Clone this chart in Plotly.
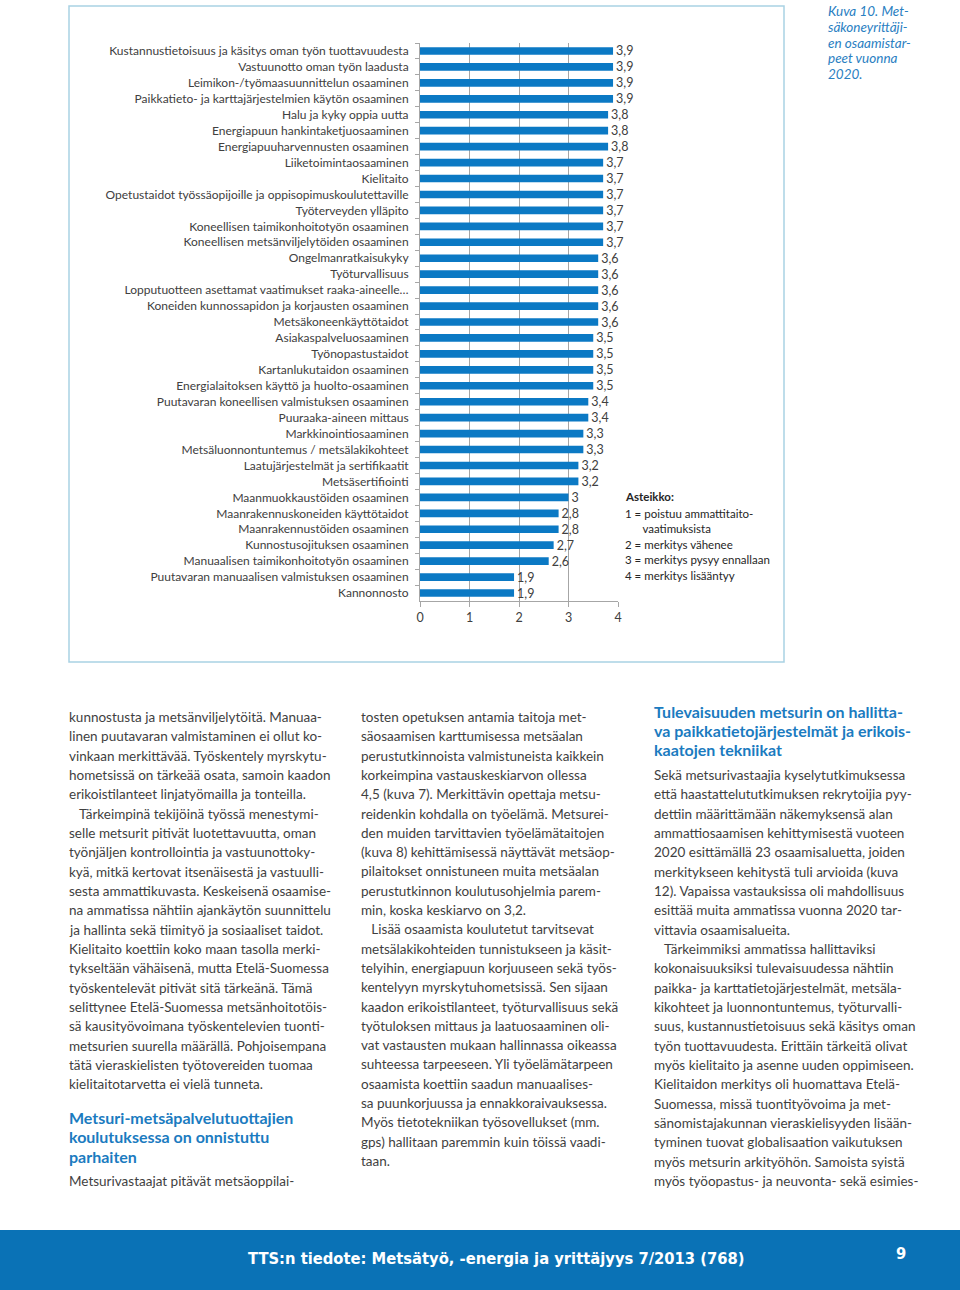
import plotly.graph_objects as go

W, H = 960, 1290

categories = [
    "Kustannustietoisuus ja käsitys oman työn tuottavuudesta",
    "Vastuunotto oman työn laadusta",
    "Leimikon-/työmaasuunnittelun osaaminen",
    "Paikkatieto- ja karttajärjestelmien käytön osaaminen",
    "Halu ja kyky oppia uutta",
    "Energiapuun hankintaketjuosaaminen",
    "Energiapuuharvennusten osaaminen",
    "Liiketoimintaosaaminen",
    "Kielitaito",
    "Opetustaidot työssäopijoille ja oppisopimuskoulutettaville",
    "Työterveyden ylläpito",
    "Koneellisen taimikonhoitotyön osaaminen",
    "Koneellisen metsänviljelytöiden osaaminen",
    "Ongelmanratkaisukyky",
    "Työturvallisuus",
    "Lopputuotteen asettamat vaatimukset raaka-aineelle…",
    "Koneiden kunnossapidon ja korjausten osaaminen",
    "Metsäkoneenkäyttötaidot",
    "Asiakaspalveluosaaminen",
    "Työnopastustaidot",
    "Kartanlukutaidon osaaminen",
    "Energialaitoksen käyttö ja huolto-osaaminen",
    "Puutavaran koneellisen valmistuksen osaaminen",
    "Puuraaka-aineen mittaus",
    "Markkinointiosaaminen",
    "Metsäluonnontuntemus / metsälakikohteet",
    "Laatujärjestelmät ja sertifikaatit",
    "Metsäsertifiointi",
    "Maanmuokkaustöiden osaaminen",
    "Maanrakennuskoneiden käyttötaidot",
    "Maanrakennustöiden osaaminen",
    "Kunnostusojituksen osaaminen",
    "Manuaalisen taimikonhoitotyön osaaminen",
    "Puutavaran manuaalisen valmistuksen osaaminen",
    "Kannonnosto",
]
values = [3.9, 3.9, 3.9, 3.9, 3.8, 3.8, 3.8, 3.7, 3.7, 3.7, 3.7, 3.7, 3.7,
          3.6, 3.6, 3.6, 3.6, 3.6, 3.5, 3.5, 3.5, 3.5, 3.4, 3.4, 3.3, 3.3,
          3.2, 3.2, 3.0, 2.8, 2.8, 2.7, 2.6, 1.9, 1.9]
x_ticks = [0, 1, 2, 3, 4]

value_labels = [f"{v:g}".replace(".", ",") for v in values]

scale_title = "Asteikko:"
scale_lines = ["1 = poistuu ammattitaito-", "      vaatimuksista", "2 = merkitys vähenee",
               "3 = merkitys pysyy ennallaan", "4 = merkitys lisääntyy"]

caption_lines = ["Kuva 10. Met-", "säkoneyrittäji-", "en osaamistar-", "peet vuonna", "2020."]

col1_lines = [
    "kunnostusta ja metsänviljelytöitä. Manuaa-",
    "linen puutavaran valmistaminen ei ollut ko-",
    "vinkaan merkittävää. Työskentely myrskytu-",
    "hometsissä on tärkeää osata, samoin kaadon",
    "erikoistilanteet linjatyömailla ja tonteilla.",
    "   Tärkeimpinä tekijöinä työssä menestymi-",
    "selle metsurit pitivät luotettavuutta, oman",
    "työnjäljen kontrollointia ja vastuunottoky-",
    "kyä, mitkä kertovat itsenäisestä ja vastuulli-",
    "sesta ammattikuvasta. Keskeisenä osaamise-",
    "na ammatissa nähtiin ajankäytön suunnittelu",
    "ja hallinta sekä tiimityö ja sosiaaliset taidot.",
    "Kielitaito koettiin koko maan tasolla merki-",
    "tykseltään vähäisenä, mutta Etelä-Suomessa",
    "työskentelevät pitivät sitä tärkeänä. Tämä",
    "selittynee Etelä-Suomessa metsänhoitotöis-",
    "sä kausityövoimana työskentelevien tuonti-",
    "metsurien suurella määrällä. Pohjoisempana",
    "tätä vieraskielisten työtovereiden tuomaa",
    "kielitaitotarvetta ei vielä tunneta.",
]
col1_heading = ["Metsuri-metsäpalvelutuottajien", "koulutuksessa on onnistuttu", "parhaiten"]
col1_tail = ["Metsurivastaajat pitävät metsäoppilai-"]

col2_lines = [
    "tosten opetuksen antamia taitoja met-",
    "säosaamisen karttumisessa metsäalan",
    "perustutkinnoista valmistuneista kaikkein",
    "korkeimpina vastauskeskiarvon ollessa",
    "4,5 (kuva 7). Merkittävin opettaja metsu-",
    "reidenkin kohdalla on työelämä. Metsurei-",
    "den muiden tarvittavien työelämätaitojen",
    "(kuva 8) kehittämisessä näyttävät metsäop-",
    "pilaitokset onnistuneen muita metsäalan",
    "perustutkinnon koulutusohjelmia parem-",
    "min, koska keskiarvo on 3,2.",
    "   Lisää osaamista koulutetut tarvitsevat",
    "metsälakikohteiden tunnistukseen ja käsit-",
    "telyihin, energiapuun korjuuseen sekä työs-",
    "kentelyyn myrskytuhometsissä. Sen sijaan",
    "kaadon erikoistilanteet, työturvallisuus sekä",
    "työtuloksen mittaus ja laatuosaaminen oli-",
    "vat vastausten mukaan hallinnassa oikeassa",
    "suhteessa tarpeeseen. Yli työelämätarpeen",
    "osaamista koettiin saadun manuaalises-",
    "sa puunkorjuussa ja ennakkoraivauksessa.",
    "Myös tietotekniikan työsovellukset (mm.",
    "gps) hallitaan paremmin kuin töissä vaadi-",
    "taan.",
]

col3_heading = ["Tulevaisuuden metsurin on hallitta-", "va paikkatietojärjestelmät ja erikois-",
                "kaatojen tekniikat"]
col3_lines = [
    "Sekä metsurivastaajia kyselytutkimuksessa",
    "että haastattelututkimuksen rekrytoijia pyy-",
    "dettiin määrittämään näkemyksensä alan",
    "ammattiosaamisen kehittymisestä vuoteen",
    "2020 esittämällä 23 osaamisaluetta, joiden",
    "merkitykseen kehitystä tuli arvioida (kuva",
    "12). Vapaissa vastauksissa oli mahdollisuus",
    "esittää muita ammatissa vuonna 2020 tar-",
    "vittavia osaamisalueita.",
    "   Tärkeimmiksi ammatissa hallittaviksi",
    "kokonaisuuksiksi tulevaisuudessa nähtiin",
    "paikka- ja karttatietojärjestelmät, metsäla-",
    "kikohteet ja luonnontuntemus, työturvalli-",
    "suus, kustannustietoisuus sekä käsitys oman",
    "työn tuottavuudesta. Erittäin tärkeitä olivat",
    "myös kielitaito ja asenne uuden oppimiseen.",
    "Kielitaidon merkitys oli huomattava Etelä-",
    "Suomessa, missä tuontityövoima ja met-",
    "sänomistajakunnan vieraskielisyyden lisään-",
    "tyminen tuovat globalisaation vaikutuksen",
    "myös metsurin arkityöhön. Samoista syistä",
    "myös työopastus- ja neuvonta- sekä esimies-",
]

footer_text = "TTS:n tiedote: Metsätyö, -energia ja yrittäjyys 7/2013 (768)"
page_no = "9"


def px(x):
    return x / W


def py(y):
    return 1 - y / H


fig = go.Figure()
fig.add_trace(go.Bar(
    x=values, y=categories, orientation="h",
    marker=dict(color="#0b79c4", line=dict(width=0)),
    width=0.48,
    text=value_labels, textposition="outside", cliponaxis=False,
    constraintext="none",
    textfont=dict(family="Lato", size=12.5, color="#404040"),
    hoverinfo="skip",
))

annotations = []


def add_lines(lines, x0, y0, step, size, color, family="Lato", bold=False, italic=False):
    for i, t in enumerate(lines):
        txt = t
        if bold:
            txt = f"<b>{txt}</b>"
        if italic:
            txt = f"<i>{txt}</i>"
        annotations.append(dict(
            x=px(x0), y=py(y0 + i * step), xref="paper", yref="paper",
            text=txt, showarrow=False, xanchor="left", yanchor="middle",
            font=dict(family=family, size=size, color=color),
        ))


body_col = "#3f3f3f"
blue = "#1b7bc0"
add_lines(col1_lines, 67, 717, 19.33, 13.5, body_col)
add_lines(col1_heading, 67, 1117, 19.5, 16, blue, bold=True)
add_lines(col1_tail, 67, 1181, 19.33, 13.5, body_col)
add_lines(col2_lines, 359, 717, 19.3, 13.5, body_col)
add_lines(col3_heading, 652, 711, 19.3, 16, blue, bold=True)
add_lines(col3_lines, 652, 775, 19.33, 13.5, body_col)
add_lines(caption_lines, 826, 11, 15.8, 13.5, "#2a80c2", italic=True)
add_lines([scale_title], 623, 497, 15.6, 11.5, "#262626", bold=True)
add_lines(scale_lines, 623, 513, 15.6, 11.5, "#262626")

annotations.append(dict(x=px(246), y=py(1258), xref="paper", yref="paper",
                        text=f"<b>{footer_text}</b>", showarrow=False, xanchor="left", yanchor="middle",
                        font=dict(family="DejaVu Sans Condensed, Open Sans", size=16.4, color="white")))
annotations.append(dict(x=px(901), y=py(1253), xref="paper", yref="paper",
                        text=f"<b>{page_no}</b>", showarrow=False, xanchor="center", yanchor="middle",
                        font=dict(family="DejaVu Sans Condensed, Open Sans", size=16.4, color="white")))

shapes = [
    dict(type="rect", xref="paper", yref="paper", x0=px(69), x1=px(784), y0=py(662), y1=py(6),
         line=dict(color="#a9d2e4", width=1.5), fillcolor="rgba(0,0,0,0)", layer="below"),
    dict(type="rect", xref="paper", yref="paper", x0=0, x1=1, y0=0, y1=py(1230),
         line=dict(width=0), fillcolor="#0a72b6", layer="below"),
]

fig.update_layout(
    width=W, height=H, autosize=False,
    margin=dict(l=0, r=0, t=0, b=0, pad=0, autoexpand=False),
    paper_bgcolor="white", plot_bgcolor="white",
    showlegend=False,
    bargap=0.55,
    annotations=annotations,
    shapes=shapes,
    xaxis=dict(
        domain=[px(420), px(618)], range=[0, 4],
        tickvals=x_ticks, ticktext=[str(t) for t in x_ticks],
        showgrid=True, gridcolor="#a6a6a6", gridwidth=1,
        zeroline=False, showline=True, linecolor="#a6a6a6", linewidth=1,
        ticks="outside", ticklen=5, tickcolor="#a6a6a6",
        tickfont=dict(family="Lato", size=12.5, color="#404040"),
        fixedrange=True, automargin=False,
    ),
    yaxis=dict(
        domain=[py(601), py(43)],
        autorange="reversed",
        showline=True, linecolor="#a6a6a6", linewidth=1,
        ticks="outside", tickson="boundaries", ticklen=4, tickcolor="#a6a6a6",
        tickfont=dict(family="Lato", size=12, color="#404040"),
        ticklabelstandoff=8,
        showgrid=False, fixedrange=True, automargin=False,
    ),
)

fig.write_html(
    "out.html",
    config={"displayModeBar": False},
    post_script=(
        "document.documentElement.style.margin='0';"
        "document.documentElement.style.overflow='hidden';"
        "document.body.style.margin='0';document.body.style.overflow='hidden';"
        "document.body.style.width='960px';"
    ),
)
